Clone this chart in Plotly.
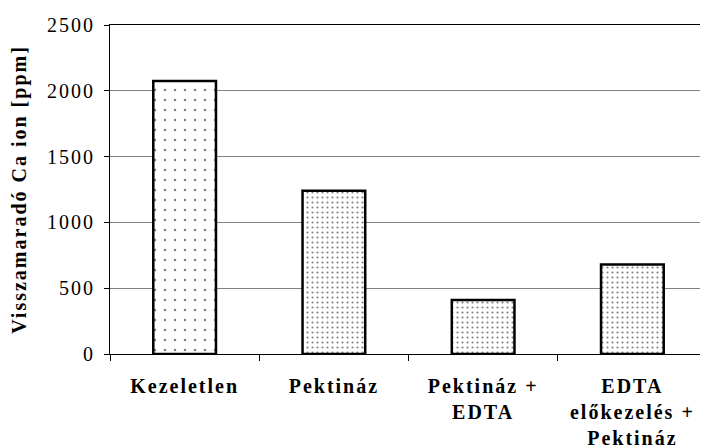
import plotly.graph_objects as go

categories = ["Kezeletlen", "Pektináz", "Pektináz +<br>EDTA", "EDTA<br>előkezelés +<br>Pektináz"]
values = [2075, 1240, 410, 680]
pattern_sizes = [10, 5, 5, 5]
pattern_solidity = [0.05, 0.15, 0.15, 0.15]
y_ticks = [0, 500, 1000, 1500, 2000, 2500]
y_title = "Visszamaradó Ca ion [ppm]"

SERIF = "Liberation Serif, Times New Roman, serif"

fig = go.Figure()
fig.add_trace(go.Bar(
    x=categories,
    y=values,
    width=0.42,
    marker=dict(
        color="white",
        line=dict(color="black", width=2.5),
        pattern=dict(shape=".", size=pattern_sizes, solidity=pattern_solidity,
                     fgcolor="black", bgcolor="white", fillmode="overlay"),
    ),
    showlegend=False,
))

fig.update_layout(
    width=700, height=440,
    margin=dict(l=102, r=1, t=17, b=94, autoexpand=False),
    paper_bgcolor="white", plot_bgcolor="white",
    font=dict(family=SERIF, size=20, color="black"),
    shapes=[dict(type="line", xref="paper", yref="paper", x0=1, x1=1, y0=0, y1=1,
                 line=dict(color="#808080", width=1))],
)
fig.update_xaxes(
    showline=True, linecolor="black", linewidth=1, mirror=True,
    ticks="outside", ticklen=6, tickcolor="black", tickson="boundaries",
    ticklabelstandoff=14,
    tickfont=dict(family=SERIF, size=20, color="black", weight="bold"),
    showgrid=False, automargin=False,
)
fig.update_yaxes(
    range=[0, 2500], tickvals=y_ticks, ticktext=[str(v) for v in y_ticks],
    showline=True, linecolor="black", linewidth=1,
    ticks="outside", ticklen=5, tickcolor="black",
    ticklabelstandoff=5,
    showgrid=True, gridcolor="#808080", gridwidth=1,
    zeroline=False,
    tickfont=dict(family=SERIF, size=20, color="black"),
    title=dict(text=y_title, font=dict(family=SERIF, size=20, color="black", weight="bold"), standoff=26),
    automargin=False,
)

post = """
var gd = document.getElementById('{plot_id}');
function sp(){
  gd.querySelectorAll('.xtick text, .ytick text, .g-ytitle text').forEach(function(t){ t.style.letterSpacing='2px'; });
}
sp();
gd.on('plotly_afterplot', sp);
"""
fig.write_html("out.html", post_script=post)
